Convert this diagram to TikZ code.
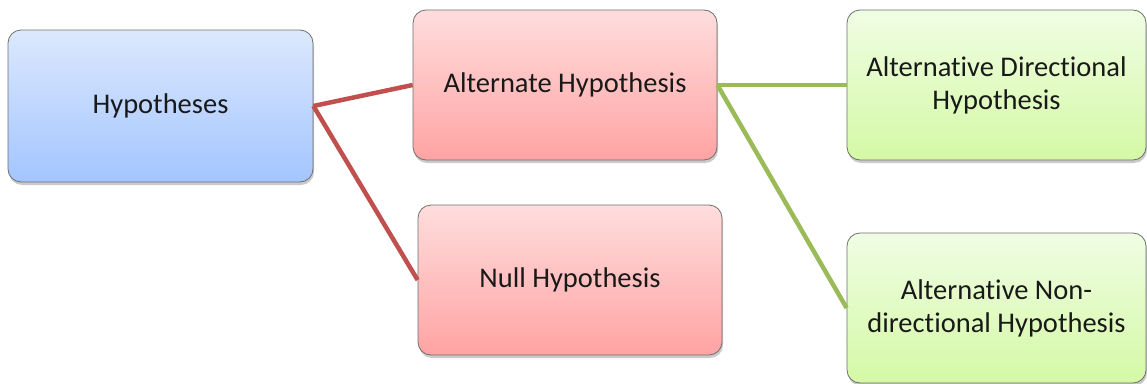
\documentclass[tikz,border=0pt]{standalone}
\usepackage{fontspec}
\setmainfont{Carlito}[RawFeature={-liga;-clig}]
\usetikzlibrary{shadows}
\definecolor{bluetop}{RGB}{220,232,253}
\definecolor{bluebot}{RGB}{163,197,255}
\definecolor{redtop}{RGB}{255,221,221}
\definecolor{redbot}{RGB}{255,163,163}
\definecolor{greentop}{RGB}{240,253,228}
\definecolor{greenbot}{RGB}{212,249,165}
\definecolor{redline}{RGB}{192,80,77}
\definecolor{greenline}{RGB}{155,187,89}
\definecolor{boxedge}{RGB}{110,110,110}
\begin{document}
\begin{tikzpicture}[x=1pt,y=-1pt,
  box/.style={draw=boxedge, line width=0.8pt, rounded corners=13pt, align=center,
    font=\fontsize{28.5}{33}\selectfont, text=black!90,
    drop shadow={shadow xshift=1pt, shadow yshift=-3pt, opacity=0.35, fill=black!60}},
  bluebox/.style={box, top color=bluetop, bottom color=bluebot},
  redbox/.style={box, top color=redtop, bottom color=redbot},
  greenbox/.style={box, top color=greentop, bottom color=greenbot},
  redconn/.style={draw=redline, line width=4.5pt},
  greenconn/.style={draw=greenline, line width=4.5pt}]
\useasboundingbox (0,0) rectangle (1147,383);
\node[bluebox, minimum width=305pt, minimum height=152pt] (hyp) at (160.5,106) {Hypotheses};
\node[redbox, minimum width=304pt, minimum height=150pt] (alt) at (565,85) {Alternate Hypothesis};
\node[redbox, minimum width=304pt, minimum height=150pt] (null) at (570,280) {Null Hypothesis};
\node[greenbox, minimum width=299pt, minimum height=150pt] (dir) at (996.5,85) {Alternative Directional\\Hypothesis};
\node[greenbox, minimum width=299pt, minimum height=150pt] (nondir) at (996.5,308) {Alternative Non-\\directional Hypothesis};
\draw[redconn] (hyp.east) -- (alt.west);
\draw[redconn] (hyp.east) -- (null.west);
\draw[greenconn] (alt.east) -- (dir.west);
\draw[greenconn] (alt.east) -- (nondir.west);
\end{tikzpicture}
\end{document}
